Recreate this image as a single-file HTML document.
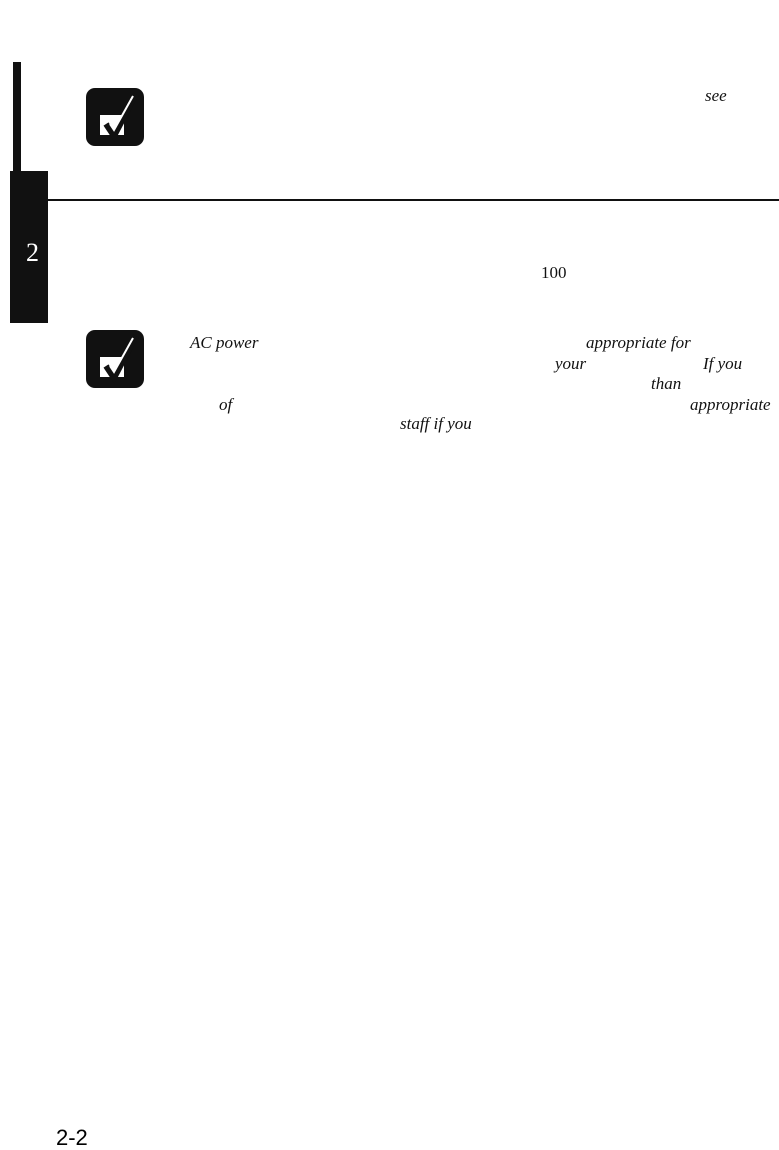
<!DOCTYPE html>
<html><head><style>
body{margin:0;width:779px;height:1138px;background:#fff;position:relative;overflow:hidden;font-family:"Liberation Serif",serif;}
.a{position:absolute;}
.t{position:absolute;font-size:17px;font-style:italic;color:#111;line-height:1;}
.cb{position:absolute;width:58px;height:58px;background:#111;border-radius:9px;}
.cb .w{position:absolute;left:14px;top:27px;width:24px;height:20px;background:#fff;}
</style></head><body>
<div class="a" style="left:13px;top:62px;width:8px;height:110px;background:#111"></div>
<div class="a" style="left:10px;top:171px;width:38px;height:152px;background:#111"></div>
<div class="a" style="left:26px;top:240px;font-size:26px;color:#fff;line-height:1">2</div>
<div class="a" style="left:48px;top:199px;width:731px;height:2px;background:#111"></div>
<div class="cb" style="left:86px;top:88px"><div class="w"></div><svg class="a" style="left:0;top:0" width="58" height="58"><path d="M20 36 L28 48 L50 6" stroke="#111" stroke-width="6" fill="none"/><path d="M24 36 L28 42 L47 8" stroke="#fff" stroke-width="2" fill="none"/></svg></div>
<div class="cb" style="left:86px;top:330px"><div class="w"></div><svg class="a" style="left:0;top:0" width="58" height="58"><path d="M20 36 L28 48 L50 6" stroke="#111" stroke-width="6" fill="none"/><path d="M24 36 L28 42 L47 8" stroke="#fff" stroke-width="2" fill="none"/></svg></div>
<div class="t" style="left:705px;top:87px">see</div>
<div class="t" style="left:541px;top:264px;font-style:normal">100</div>
<div class="t" style="left:190px;top:334px">AC power</div>
<div class="t" style="left:586px;top:334px">appropriate for</div>
<div class="t" style="left:555px;top:355px">your</div>
<div class="t" style="left:703px;top:355px">If you</div>
<div class="t" style="left:651px;top:375px">than</div>
<div class="t" style="left:219px;top:396px">of</div>
<div class="t" style="left:690px;top:396px">appropriate</div>
<div class="t" style="left:400px;top:415px">staff if you</div>
<div class="a" style="left:56px;top:1127px;font-size:22px;line-height:1;font-family:'Liberation Sans',sans-serif">2-2</div>
</body></html>
